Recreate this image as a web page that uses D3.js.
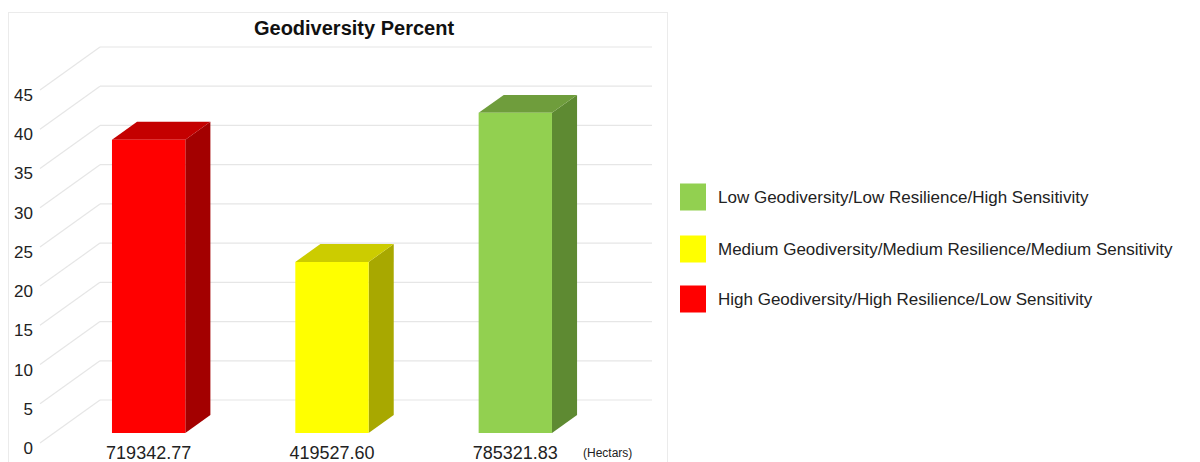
<!DOCTYPE html>
<html>
<head>
<meta charset="utf-8">
<script src="https://cdn.jsdelivr.net/npm/d3@7"></script>
<style>
  html, body { margin: 0; padding: 0; background: #fff; }
  svg { display: block; font-family: "Liberation Sans", Arial, sans-serif; }
</style>
</head>
<body>
<svg id="chart" width="1200" height="462"></svg>
<script>
// ---- data ----
const categories = ["719342.77", "419527.60", "785321.83"];
const values = [37.38, 21.80, 40.81];
const seriesNames = [
  "High Geodiversity/High Resilience/Low Sensitivity",
  "Medium Geodiversity/Medium Resilience/Medium Sensitivity",
  "Low Geodiversity/Low Resilience/High Sensitivity"
];
const yTicks = [0, 5, 10, 15, 20, 25, 30, 35, 40, 45];
const title = "Geodiversity Percent";
const unitLabel = "(Hectars)";

// ---- styles ----
const palette = [
  { front: "#ff0000", top: "#c40000", side: "#a30000" },
  { front: "#ffff00", top: "#cccc00", side: "#a8a800" },
  { front: "#92d050", top: "#6f9d3c", side: "#5e8a32" }
];

const svg = d3.select("#chart");

// 3D geometry: back wall coords + depth vector (front plane offset)
const depthDX = -60, depthDY = 43; // back -> front
const y = d3.scaleLinear().domain([0, 45]).range([400, 47]);
const x = d3.scaleBand().domain(categories).range([103, 653]).paddingInner(0.6).paddingOuter(0.3);
const f1 = 0.233, f2 = 0.651; // bar depth fractions (0 = front plane, 1 = back wall)
const off = f => ({ dx: depthDX * (1 - f), dy: depthDY * (1 - f) });

// frame
svg.append("rect").attr("x", 8.5).attr("y", 12.5).attr("width", 659).attr("height", 470)
  .attr("fill", "none").attr("stroke", "#ebebeb");

// grid
const grid = svg.append("g").attr("stroke", "#e6e6e6").attr("stroke-width", 1.2);
yTicks.forEach(v => {
  const yy = y(v);
  grid.append("line").attr("x1", 100).attr("y1", yy).attr("x2", 652).attr("y2", yy);
  grid.append("line").attr("x1", 100).attr("y1", yy).attr("x2", 100 + depthDX).attr("y2", yy + depthDY);
});

// y labels
svg.append("g").selectAll("text").data(yTicks).join("text")
  .attr("x", 33).attr("y", d => y(d) + depthDY + 5).attr("dy", "0.35em")
  .attr("text-anchor", "end").attr("font-size", 17).attr("fill", "#222")
  .text(d => d);

// bars
const o1 = off(f1), o2 = off(f2);
const bars = svg.append("g");
categories.forEach((c, i) => {
  const xl = x(c), xr = x(c) + x.bandwidth();
  const yt = y(values[i]), yb = y(0);
  const col = palette[i];
  const P = (xx, yy, o) => [xx + o.dx, yy + o.dy];
  // side face
  bars.append("polygon").attr("fill", col.side).attr("points", [
    P(xr, yt, o1), P(xr, yt, o2), P(xr, yb, o2), P(xr, yb, o1)
  ].map(p => p.join(",")).join(" "));
  // top face
  bars.append("polygon").attr("fill", col.top).attr("points", [
    P(xl, yt, o1), P(xl, yt, o2), P(xr, yt, o2), P(xr, yt, o1)
  ].map(p => p.join(",")).join(" "));
  // front face
  bars.append("polygon").attr("fill", col.front).attr("points", [
    P(xl, yt, o1), P(xr, yt, o1), P(xr, yb, o1), P(xl, yb, o1)
  ].map(p => p.join(",")).join(" "));
});

// x labels
svg.append("g").selectAll("text").data(categories).join("text")
  .attr("x", d => x(d) + x.bandwidth() / 2 + o1.dx)
  .attr("y", 459).attr("text-anchor", "middle")
  .attr("font-size", 18).attr("fill", "#222").text(d => d);

svg.append("text").attr("x", 583).attr("y", 457).attr("font-size", 12).attr("fill", "#222").text(unitLabel);

// title
svg.append("text").attr("x", 354).attr("y", 35).attr("text-anchor", "middle")
  .attr("font-size", 20).attr("font-weight", "bold").attr("fill", "#111").text(title);

// legend (reverse order)
const legendY = [197, 249, 299];
const legendItems = [2, 1, 0];
const lg = svg.append("g");
legendItems.forEach((idx, k) => {
  lg.append("rect").attr("x", 680).attr("y", legendY[k] - 13.5).attr("width", 26).attr("height", 27)
    .attr("fill", palette[idx].front);
  lg.append("text").attr("x", 718).attr("y", legendY[k]).attr("dy", "0.35em")
    .attr("font-size", 17).attr("fill", "#222").text(seriesNames[idx]);
});
</script>
</body>
</html>
